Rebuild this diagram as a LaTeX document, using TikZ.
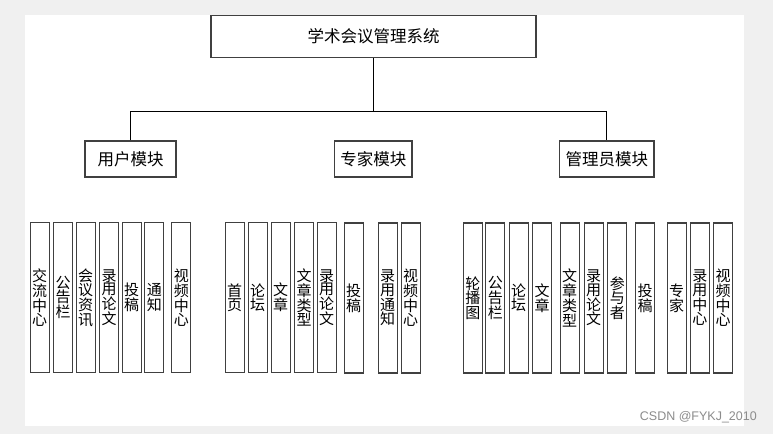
\documentclass[tikz,border=0pt]{standalone}
\usepackage{fontspec}
\newfontfamily\cjk{Noto Sans CJK SC}
\newfontfamily\wm{Liberation Sans}
\definecolor{bggray}{HTML}{F0F0F0}
\definecolor{boxline}{HTML}{404040}
\tikzset{
  box/.style={draw=boxline, line width=1.2pt, inner sep=0pt, font=\cjk\fontsize{16.5}{18}\selectfont},
  col/.style={draw=boxline, line width=1.1pt, inner sep=0pt, minimum width=19pt, minimum height=150pt,
              align=center, font=\cjk\fontsize{15}{11.5}\selectfont},
  link/.style={draw=black, line width=0.9pt}
}
\begin{document}
\begin{tikzpicture}[x=1pt,y=-1pt]
\useasboundingbox (0,0) rectangle (773,434);
\fill[bggray] (0,0) rectangle (773,434);
\fill[white] (25,15) rectangle (744,426);

\node[box, minimum width=325pt, minimum height=42pt] (top) at (373.5,36.7) {学术会议管理系统};
\node[box, minimum width=91pt, minimum height=36pt] (user) at (130.5,159) {用户模块};
\node[box, minimum width=77.5pt, minimum height=36pt] (expert) at (373.3,159) {专家模块};
\node[box, minimum width=94.5pt, minimum height=36pt] (admin) at (606.8,159) {管理员模块};

\coordinate (j) at (373.5,111);
\draw[link] (top.south) -- (top.south |- j);
\draw[link] (user.north) -- (user.north |- j) -- (admin.north |- j) -- (admin.north);

% user module columns
\node[col] (u1) at (39.7,297.5) {交\\流\\中\\心};
\node[col] (u2) at (63,297.5) {公\\告\\栏};
\node[col] (u3) at (85.7,297.5) {会\\议\\资\\讯};
\node[col] (u4) at (109,297.5) {录\\用\\论\\文};
\node[col] (u5) at (131.7,297.5) {投\\稿};
\node[col] (u6) at (154.3,297.5) {通\\知};
\node[col] (u7) at (181.3,297.5) {视\\频\\中\\心};

% expert module columns
\node[col] (e1) at (234.7,297.5) {首\\页};
\node[col] (e2) at (257.7,297.5) {论\\坛};
\node[col] (e3) at (280.7,297.5) {文\\章};
\node[col] (e4) at (304,297.5) {文\\章\\类\\型};
\node[col] (e5) at (326.7,297.5) {录\\用\\论\\文};
\node[col] (e6) at (353.7,298) {投\\稿};
\node[col] (e7) at (387.7,298) {录\\用\\通\\知};
\node[col] (e8) at (410.7,298) {视\\频\\中\\心};

% admin module columns
\node[col] (a1) at (472.8,298) {轮\\播\\图};
\node[col] (a2) at (495.3,298) {公\\告\\栏};
\node[col] (a3) at (518.7,298) {论\\坛};
\node[col] (a4) at (542,298) {文\\章};
\node[col] (a5) at (569.7,298) {文\\章\\类\\型};
\node[col] (a6) at (593.7,298) {录\\用\\论\\文};
\node[col] (a7) at (617.3,298) {参\\与\\者};
\node[col] (a8) at (645.2,298) {投\\稿};
\node[col] (a9) at (676.7,298) {专\\家};
\node[col] (a10) at (699.8,298) {录\\用\\中\\心};
\node[col] (a11) at (723,298) {视\\频\\中\\心};

\node[anchor=east, inner sep=0pt, text=black!45, font=\wm\fontsize{12.5}{14}\selectfont] (wm) at (757,417.5) {CSDN @FYKJ\_2010};
\end{tikzpicture}
\end{document}
